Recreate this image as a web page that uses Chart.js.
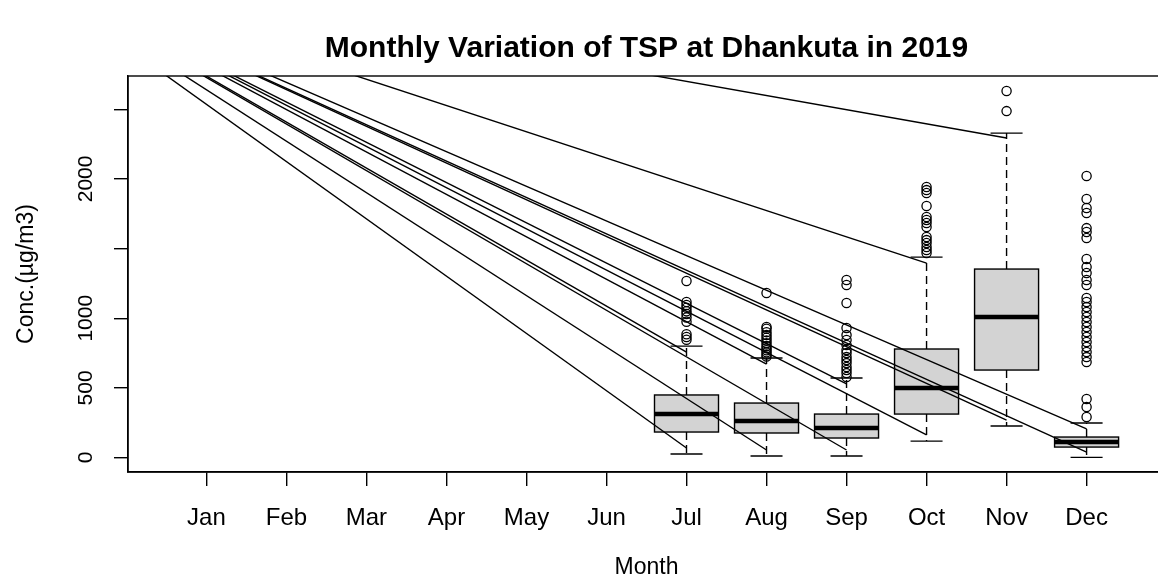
<!DOCTYPE html>
<html>
<head>
<meta charset="utf-8">
<script src="https://cdn.jsdelivr.net/npm/chart.js@4.4.1/dist/chart.umd.min.js"></script>
<style>
  html, body { margin: 0; padding: 0; background: #fff; overflow: hidden; }
  #wrap { position: absolute; left: 0; top: 0; width: 1180px; height: 588px; }
</style>
</head>
<body>
<div id="wrap"><canvas id="grafico" width="1180" height="588"></canvas></div>
<script>
const meses = ["Jan", "Feb", "Mar", "Apr", "May", "Jun", "Jul", "Aug", "Sep", "Oct", "Nov", "Dec"];
const yTicks = [0, 500, 1000, 1500, 2000, 2500];
const yLabels = ["0", "500", "1000", "", "2000", ""];

// box stats (Jul..Dec)
const mesesBox = [7, 8, 9, 10, 11, 12];
const bigodeInf = [25, 11, 11, 118, 226, 1];
const q1 = [183, 176, 140, 312, 628, 75];
const mediana = [312, 262, 212, 499, 1009, 111];
const q3 = [449, 391, 312, 779, 1353, 147];
const bigodeSup = [800, 714, 571, 1439, 2329, 248];

const outJul = [1267, 1116, 1095, 1075, 1050, 1030, 1005, 975, 885, 865, 845];
const outAug = [1181, 937, 925, 900, 880, 860, 840, 820, 800, 785, 770, 755, 740, 725];
const outSep = [1274, 1238, 1109, 930, 879, 844, 808, 772, 750, 721, 700, 678, 650, 628, 606, 578];
const outOct = [1942, 1920, 1899, 1806, 1727, 1705, 1684, 1655, 1583, 1561, 1540, 1511, 1490, 1468];
const outNov = [2631, 2487];
const outDec = [2021, 1856, 1791, 1755, 1647, 1619, 1576, 1425, 1368, 1325, 1274, 1238,
  1145, 1116, 1080, 1045, 1009, 973, 937, 901, 865, 829, 793, 757, 721, 686, 420, 363, 291];
const outliers = [outJul, outAug, outSep, outOct, outNov, outDec];

// stray lines: all start from one point off the plot
const origemMes = -1.5;
const origemValor = 3564;
const linhaFimInf = [68, 54, 54, 162, 269, 39];
const linhaFimSup = [757, 671, 528, 1396, 2294, 205];

const fonte = "'Liberation Sans', Arial, sans-serif";

const datasets = [];
mesesBox.forEach((m, i) => {
  [linhaFimInf[i], linhaFimSup[i]].forEach(v => {
    datasets.push({
      type: 'line',
      data: [{ x: origemMes, y: origemValor }, { x: m, y: v }],
      borderColor: '#000',
      borderWidth: 1.4,
      pointRadius: 0,
      fill: false
    });
  });
});
datasets.push({
  type: 'scatter',
  data: mesesBox.flatMap((m, i) => outliers[i].map(v => ({ x: m, y: v }))),
  pointStyle: 'circle',
  pointRadius: 4.6,
  borderWidth: 1.3,
  borderColor: '#000',
  backgroundColor: 'rgba(0,0,0,0)'
});

// boxes drawn under the lines
const boxPlugin = {
  id: 'boxes',
  beforeDatasetsDraw(chart) {
    const ctx = chart.ctx;
    const x = chart.scales.x, y = chart.scales.y;
    ctx.save();
    ctx.strokeStyle = '#000';
    mesesBox.forEach((m, i) => {
      const cx = x.getPixelForValue(m);
      const hw = x.getPixelForValue(m + 0.4) - cx;
      const cw = hw / 2;
      const yq1 = y.getPixelForValue(q1[i]);
      const yq3 = y.getPixelForValue(q3[i]);
      const ylo = y.getPixelForValue(bigodeInf[i]);
      const yhi = y.getPixelForValue(bigodeSup[i]);
      const ymed = y.getPixelForValue(mediana[i]);
      ctx.lineWidth = 1.4;
      ctx.setLineDash([8, 5]);
      ctx.beginPath();
      ctx.moveTo(cx, yq3); ctx.lineTo(cx, yhi);
      ctx.moveTo(cx, yq1); ctx.lineTo(cx, ylo);
      ctx.stroke();
      ctx.setLineDash([]);
      ctx.beginPath();
      ctx.moveTo(cx - cw, yhi); ctx.lineTo(cx + cw, yhi);
      ctx.moveTo(cx - cw, ylo); ctx.lineTo(cx + cw, ylo);
      ctx.stroke();
      ctx.fillStyle = '#d3d3d3';
      ctx.fillRect(cx - hw, yq3, 2 * hw, yq1 - yq3);
      ctx.strokeRect(cx - hw, yq3, 2 * hw, yq1 - yq3);
      ctx.lineWidth = 4.5;
      ctx.beginPath();
      ctx.moveTo(cx - hw, ymed); ctx.lineTo(cx + hw, ymed);
      ctx.stroke();
    });
    ctx.restore();
  },
  afterDatasetsDraw(chart) {
    const ctx = chart.ctx;
    const a = chart.chartArea;
    const y = chart.scales.y;
    ctx.save();
    ctx.strokeStyle = '#000';
    ctx.lineWidth = 1.4;
    ctx.strokeRect(a.left, a.top, a.right - a.left, a.bottom - a.top);
    // y tick labels, vertical like R
    ctx.fillStyle = '#000';
    ctx.font = "21px " + fonte;
    ctx.textAlign = 'center';
    ctx.textBaseline = 'middle';
    yTicks.forEach((v, i) => {
      if (!yLabels[i]) return;
      ctx.save();
      ctx.translate(86, y.getPixelForValue(v));
      ctx.rotate(-Math.PI / 2);
      ctx.fillText(yLabels[i], 0, 0);
      ctx.restore();
    });
    ctx.restore();
  }
};

new Chart(document.getElementById('grafico'), {
  type: 'scatter',
  data: { datasets },
  options: {
    responsive: false,
    animation: false,
    layout: { padding: { left: 0, right: 15, top: 0, bottom: 0 } },
    plugins: {
      legend: { display: false },
      tooltip: { enabled: false },
      title: {
        display: true,
        text: 'Monthly Variation of TSP at Dhankuta in 2019',
        color: '#000',
        fullSize: false,
        font: { family: fonte, size: 30, weight: 'bold' },
        padding: { top: 31, bottom: 9 }
      }
    },
    scales: {
      x: {
        type: 'linear',
        min: 0.02,
        max: 12.98,
        afterBuildTicks: s => { s.ticks = meses.map((_, i) => ({ value: i + 1 })); },
        afterFit: s => { s.height = 116; },
        ticks: {
          color: '#000',
          font: { family: fonte, size: 24 },
          padding: 18,
          maxRotation: 0,
          autoSkip: false,
          callback: v => meses[v - 1]
        },
        grid: { drawOnChartArea: false, drawTicks: true, tickLength: 14, color: '#000', lineWidth: 1.4 },
        border: { display: true, color: '#000', width: 1.4 },
        title: { display: true, text: 'Month', color: '#000', font: { family: fonte, size: 23 }, padding: { top: 0, bottom: 7 } }
      },
      y: {
        min: -104,
        max: 2739,
        afterBuildTicks: s => { s.ticks = yTicks.map(v => ({ value: v })); },
        afterFit: s => { s.width = 128; },
        ticks: { display: true, callback: () => '' },
        grid: { drawOnChartArea: false, drawTicks: true, tickLength: 14, color: '#000', lineWidth: 1.4 },
        border: { display: true, color: '#000', width: 1.4 },
        title: { display: true, text: 'Conc.(µg/m3)', color: '#000', font: { family: fonte, size: 23 }, padding: { top: 13, bottom: 0 } }
      }
    }
  },
  plugins: [boxPlugin]
});
</script>
</body>
</html>
